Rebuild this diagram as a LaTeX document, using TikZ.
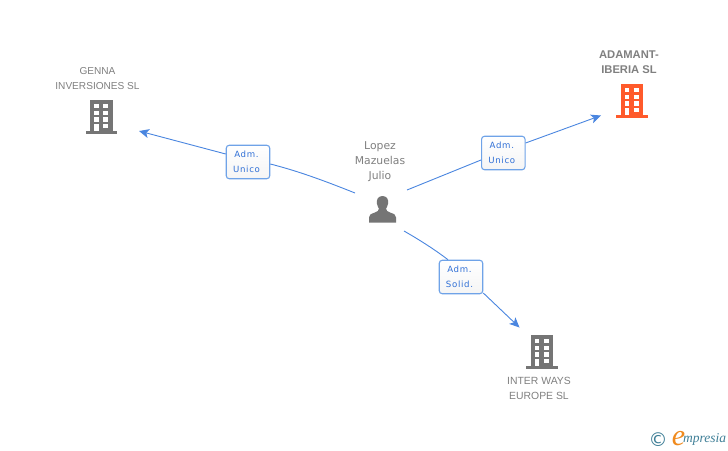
\documentclass[tikz,border=0pt]{standalone}
\usepackage{fontspec}
\setmainfont{Liberation Sans}
\newfontfamily\lblfont{DejaVu Sans}
\newfontfamily\lblspaced[LetterSpace=8]{DejaVu Sans}
\newfontfamily\logofont{Liberation Serif}
\usetikzlibrary{arrows.meta}
\definecolor{linkblue}{HTML}{4A86E0}
\definecolor{boxedge}{HTML}{6FA3E8}
\definecolor{lbltext}{HTML}{2F6FD6}
\definecolor{icongrey}{HTML}{757575}
\definecolor{nametext}{HTML}{808080}
\definecolor{hot}{HTML}{FF5A2B}
\definecolor{logoteal}{HTML}{3F7F97}
\definecolor{logoorange}{HTML}{F08A1D}
\newcommand{\rl}[1]{#1\kern3pt}
\tikzset{
  link/.style={draw=linkblue,line width=0.9pt},
  linkarrow/.style={link,-{Stealth[length=10pt,width=9pt,inset=2.5pt]}},
  rolebox/.style={draw=boxedge,line width=1.1pt,rounded corners=3pt,top color=white,bottom color=black!4,
    minimum width=43.5pt,minimum height=33.5pt,inner sep=0pt,align=center,text=lbltext,
    font=\lblspaced\fontsize{8.6}{15}\selectfont},
  firmname/.style={align=center,text=nametext,inner sep=0pt,font=\fontsize{10.1}{15}\selectfont},
  boldname/.style={firmname,font=\fontsize{11.2}{15}\selectfont\bfseries},
  pics/building/.style={code={
    \fill[#1] (-10.5,-17) rectangle (12.2,14);
    \fill[#1] (-15,14) rectangle (16.5,16.6);
    \foreach \yy in {-13,-6.4,0.3}{
      \fill[white] (-6.5,\yy) rectangle (-1.8,\yy+4.4);
      \fill[white] (2.8,\yy) rectangle (7.8,\yy+4.4);}
    \fill[white] (-6.5,7) rectangle (-1.8,14);
    \fill[white] (2.8,7) rectangle (7.8,11.4);
  }},
  pics/person/.style={code={
    \fill[#1] (0,-13.5) .. controls (4.6,-13.5) and (6.2,-9.5) .. (5.6,-6)
      .. controls (5.2,-3.4) and (4,-2.2) .. (3.6,-0.8)
      .. controls (3.4,1) and (5,2.2) .. (8,3.2)
      .. controls (11.5,4.4) and (13.5,5) .. (13.5,8)
      -- (13.5,13.2) -- (-13.5,13.2) -- (-13.5,8)
      .. controls (-13.5,5) and (-11.5,4.4) .. (-8,3.2)
      .. controls (-5,2.2) and (-3.4,1) .. (-3.6,-0.8)
      .. controls (-4,-2.2) and (-5.2,-3.4) .. (-5.6,-6)
      .. controls (-6.2,-9.5) and (-4.6,-13.5) .. (0,-13.5) -- cycle;
  }}
}
\begin{document}
\begin{tikzpicture}[x=1pt,y=-1pt]
\useasboundingbox (0,0) rectangle (728,450);
\fill[white] (0,0) rectangle (728,450);

% icons
\pic at (100.5,117) {building=icongrey};
\pic at (631,101) {building=hot};
\pic at (541,352) {building=icongrey};
\pic at (382.5,209.5) {person=icongrey};

% names
\node[firmname] (genna) at (97.5,78.5) {GENNA\\INVERSIONES SL};
\node[boldname] (adamant) at (629,62.5) {ADAMANT-\\IBERIA SL};
\node[firmname,font=\fontsize{10.4}{15}\selectfont] (interways) at (539,388.5) {INTER WAYS\\EUROPE SL};
\node[firmname,font=\lblfont\fontsize{10.8}{15}\selectfont] (lopez) at (380,162) {Lopez\\Mazuelas\\Julio};

% free ends of the connectors
\coordinate (pw) at (355,193);
\coordinate (pe) at (407,190);
\coordinate (ps) at (404,231);
\coordinate (tg) at (139,131);
\coordinate (ta) at (601,115.5);
\coordinate (ti) at (519.5,327.5);

% role boxes
\node[rolebox] (r1) at (248,162) {\rl{Adm.}\\\rl{Unico}};
\node[rolebox] (r2) at (503.3,153) {\rl{Adm.}\\\rl{Unico}};
\node[rolebox] (r3) at (461,277) {\rl{Adm.}\\\rl{Solid.}};

% connectors
\draw[link] (pw) .. controls (325,181) and (298,171) .. ([yshift=-2pt]r1.east);
\draw[linkarrow] ([yshift=8pt]r1.west) -- (tg);
\draw[link] (pe) -- ([yshift=-7pt]r2.west);
\draw[linkarrow] ([yshift=10pt]r2.east) -- (ta);
\draw[link] (ps) .. controls (418,239) and (434,249) .. ([xshift=-13pt]r3.north);
\draw[linkarrow] ([yshift=-16pt]r3.east) -- (ti);

% logo
\node[inner sep=0pt,text=logoteal,font=\lblfont\fontsize{19}{19}\selectfont] (copy) at (658,439.5) {\textcopyright};
\node[inner sep=0pt,anchor=base,text=logoorange,font=\logofont\itshape\fontsize{30}{30}\selectfont] (loge) at (678.5,445) {e};
\node[inner sep=0pt,anchor=west,text=logoteal,font=\logofont\itshape\fontsize{13.5}{14}\selectfont] (logm) at (683,439) {mpresia};
\end{tikzpicture}
\end{document}
